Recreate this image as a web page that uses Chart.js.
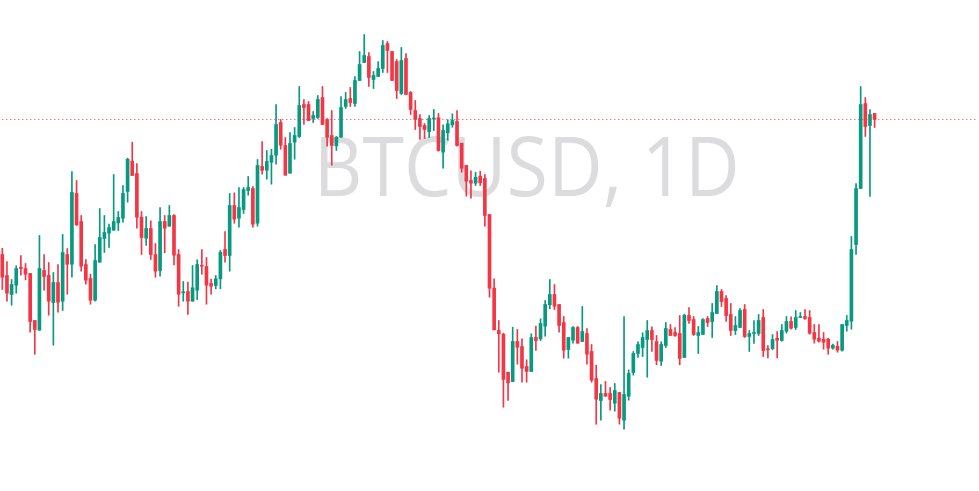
<!DOCTYPE html>
<html>
<head>
<meta charset="utf-8">
<script src="https://cdn.jsdelivr.net/npm/chart.js@4/dist/chart.umd.min.js"></script>
<style>
	html, body { margin: 0; padding: 0; background: #ffffff; }
	#wrap { width: 979px; height: 491px; }
</style>
</head>
<body>
<div id="wrap"><canvas id="chart" width="979" height="491"></canvas></div>
<script>
// daily BTCUSD candles (USD)
var opens = [
	74600, 72500, 70600, 71530, 73330, 73200, 72700, 68000, 67030, 73000,
	72500, 69800, 71800, 69930, 74600, 73630, 80700, 77900, 73600, 72200,
	70030, 73830, 76200, 76730, 77030, 77770, 78230, 80900, 83930, 82700,
	78330, 76230, 77200, 74600, 73000, 77900, 77430, 78500, 74600, 70770,
	70900, 69930, 71030, 73530, 73400, 71700, 71500, 72170, 75100, 74500,
	79500, 78230, 79100, 81000, 81200, 77730, 83400, 83030, 83830, 84530,
	87800, 85500, 82730, 85830, 86400, 89600, 89600, 88200, 88300, 90300,
	88100, 86500, 85470, 86330, 89400, 90200, 89700, 92000, 93800, 94400,
	92100, 92400, 93200, 95700, 94900, 93900, 90700, 94200, 90800, 89000,
	88200, 87500, 86900, 88150, 88270, 84830, 86770, 87570, 87900, 85730,
	83500, 82000, 81730, 82430, 82200, 78600, 71230, 67000, 66630, 62830,
	61900, 65900, 65400, 63400, 62900, 66300, 66170, 67430, 69570, 70600,
	69600, 67800, 65100, 66030, 67300, 65900, 66700, 64900, 62200, 60000,
	60700, 60700, 59730, 60800, 58030, 60430, 62800, 64700, 65300, 66100,
	67000, 65900, 63930, 65500, 67100, 66800, 66700, 64300, 68500, 68100,
	66500, 66600, 68200, 67900, 68700, 70900, 70200, 68600, 67000, 67300,
	69100, 66400, 66700, 66700, 68300, 65130, 65200, 66230, 66000, 66930,
	67900, 67300, 68300, 68400, 68300, 66800, 66230, 66130, 66130, 65230,
	65430, 65030, 67500, 67930, 75600, 81200, 89700, 87500, 88700
];
var highs = [
	75230, 73900, 72100, 73470, 74500, 73700, 72700, 68000, 76500, 74600,
	73800, 72800, 73600, 76600, 75200, 82900, 82000, 78500, 74100, 72630,
	75600, 79200, 78500, 77630, 82600, 78900, 81500, 84230, 85830, 83700,
	78900, 78400, 77970, 75700, 79300, 78500, 79500, 78600, 75100, 71900,
	71830, 73500, 74070, 75100, 74300, 72130, 72500, 75000, 76900, 80700,
	80770, 81300, 81300, 82400, 81400, 84100, 85900, 85000, 85130, 89600,
	88100, 86300, 86800, 87300, 91400, 90100, 89900, 88900, 90500, 91400,
	88200, 89000, 86400, 90400, 90800, 91300, 92400, 94900, 96600, 94800,
	92900, 93900, 96000, 95900, 94900, 94100, 95300, 94700, 90900, 90000,
	88600, 87700, 88500, 89100, 88700, 87570, 88070, 88670, 89000, 85730,
	83500, 82970, 82830, 82930, 82600, 78600, 72170, 68000, 66730, 62830,
	67330, 67100, 66170, 64070, 66670, 67430, 68170, 70000, 72100, 71600,
	69600, 68400, 66300, 67400, 67400, 69400, 67200, 65600, 63530, 61600,
	61900, 61300, 61700, 60800, 68400, 63070, 64900, 65870, 66770, 68000,
	67370, 66500, 65870, 67800, 67600, 67300, 68500, 68630, 69300, 68400,
	67400, 68200, 68400, 69700, 71500, 71100, 70500, 69700, 68400, 69200,
	69600, 67000, 68000, 68600, 69100, 65500, 66600, 66900, 67600, 68400,
	68370, 69000, 68800, 69100, 69000, 67600, 67600, 66800, 66230, 65630,
	65900, 67600, 68500, 76400, 81700, 91400, 90300, 89100, 88700
];
var lows = [
	71100, 69930, 69530, 70730, 72530, 72070, 66830, 64630, 67030, 71030,
	68530, 65530, 68830, 69000, 70630, 72330, 77500, 72930, 71630, 69630,
	69930, 73830, 74800, 75300, 77030, 77000, 77830, 79830, 82500, 77230,
	74600, 75500, 74100, 72330, 72430, 74770, 77430, 73570, 69430, 69930,
	68600, 69930, 70100, 72630, 69630, 70630, 71170, 71170, 73830, 72930,
	77730, 77330, 78700, 80530, 77330, 77430, 82630, 82130, 81630, 83630,
	85130, 82530, 82730, 84130, 86300, 87600, 88000, 87800, 88200, 87600,
	85430, 83530, 85000, 86330, 89200, 89400, 89400, 92000, 93800, 91400,
	91200, 92400, 92800, 92800, 92000, 90200, 90600, 90600, 88600, 87100,
	86100, 86200, 86300, 87000, 84930, 83230, 86030, 87330, 85430, 82830,
	80430, 80230, 81500, 81500, 77430, 70330, 67070, 62830, 59330, 60000,
	61900, 63630, 61830, 61830, 62900, 65000, 66000, 66430, 69170, 69100,
	66830, 64230, 64230, 65730, 65730, 65900, 63630, 61830, 57630, 58030,
	60430, 59030, 58930, 57630, 57130, 60030, 62530, 64300, 64400, 62330,
	64900, 63570, 63500, 65300, 66500, 66400, 63570, 64300, 67700, 66500,
	64700, 66600, 67400, 66300, 68700, 69400, 67900, 66500, 66600, 67300,
	66300, 64900, 65700, 66500, 64400, 64270, 65070, 64270, 65930, 66730,
	67130, 67100, 68300, 68100, 66630, 65730, 65830, 65130, 64630, 65130,
	64830, 64930, 66930, 67130, 74600, 81200, 86400, 80400, 87300
];
var closes = [
	72330, 70730, 71600, 73200, 73200, 72630, 67900, 67100, 73200, 72400,
	69930, 71800, 69830, 74800, 73630, 80800, 77570, 73430, 72030, 70030,
	74000, 76300, 76800, 77300, 77900, 78300, 80700, 84130, 82500, 78330,
	76300, 77200, 74600, 72930, 77900, 77230, 78500, 74530, 70630, 70830,
	69930, 71270, 73600, 73430, 71530, 71430, 72170, 74830, 74500, 79500,
	78130, 79300, 81100, 81300, 77630, 83500, 83030, 83900, 84500, 87600,
	85530, 82530, 85700, 86500, 89500, 89300, 88000, 88500, 90100, 87600,
	86330, 85500, 86330, 89300, 90100, 89800, 92000, 93600, 94500, 92300,
	92500, 93200, 95500, 95000, 92000, 91000, 94000, 90600, 89100, 88100,
	87400, 87100, 88200, 88250, 85000, 87000, 87670, 88000, 85500, 83230,
	81930, 81730, 82330, 81770, 78500, 71230, 67070, 66670, 62100, 61770,
	65900, 65330, 63230, 62900, 66300, 66000, 67700, 69600, 70600, 69430,
	67500, 65030, 66300, 67300, 65730, 66900, 64630, 62030, 60130, 60700,
	60430, 60100, 61000, 58230, 60600, 62700, 64700, 65600, 66300, 67000,
	66100, 64000, 65600, 67200, 66500, 66500, 64200, 68530, 68000, 66600,
	66800, 68100, 67800, 68800, 70900, 69900, 68500, 67000, 67500, 69000,
	66400, 66700, 66800, 68000, 65000, 65070, 66100, 66030, 67000, 67900,
	67230, 68300, 68400, 68200, 66730, 66130, 65930, 65830, 65230, 65530,
	65030, 67600, 68000, 75100, 81200, 89600, 87400, 88600, 88100
];
var emptyDaysRight = 22; // blank space TradingView leaves after the last bar
var symbolText = 'BTCUSD, 1D';

var upColor = '#089981';
var downColor = '#F23645';

var total = opens.length + emptyDaysRight;
var labels = [];
for (var i = 0; i < total; i++) labels.push(String(i + 1));

var colors = opens.map(function (o, i) { return closes[i] >= o ? upColor : downColor; });
var wicks = lows.map(function (l, i) { return [l, highs[i]]; });
var bodies = opens.map(function (o, i) { return [Math.min(o, closes[i]), Math.max(o, closes[i])]; });
var lastClose = closes[closes.length - 1];
var lastColor = colors[colors.length - 1];

var watermark = {
	id: 'watermark',
	beforeDatasetsDraw: function (chart) {
		var ctx = chart.ctx;
		ctx.save();
		ctx.translate(chart.width * 0.538, chart.height * 0.399);
		ctx.scale(0.92, 1);
		ctx.font = '82px "Open Sans"';
		ctx.fillStyle = '#dcdcdf';
		ctx.textAlign = 'center';
		ctx.textBaseline = 'alphabetic';
		ctx.fillText(symbolText, 0, 0);
		ctx.restore();
	}
};

function draw() {
	new Chart(document.getElementById('chart').getContext('2d'), {
		type: 'bar',
		data: {
			labels: labels,
			datasets: [{
				type: 'line',
				data: labels.map(function () { return lastClose; }),
				borderColor: lastColor,
				borderWidth: 1,
				borderDash: [1, 3],
				pointRadius: 0,
				order: 0
			}, {
				data: bodies,
				backgroundColor: colors,
				barThickness: 3,
				minBarLength: 1,
				grouped: false,
				order: 1
			}, {
				data: wicks,
				backgroundColor: colors,
				barThickness: 1,
				grouped: false,
				order: 2
			}]
		},
		options: {
			responsive: false,
			animation: false,
			layout: { padding: 0 },
			plugins: { legend: { display: false }, tooltip: { enabled: false } },
			scales: {
				x: { display: false, offset: true },
				// half-pixel shift keeps the dotted price line crisp
				y: { display: false, min: 50950, max: 100050 }
			}
		},
		plugins: [watermark]
	});
}

if (document.fonts && document.fonts.load) {
	document.fonts.load('82px "Open Sans"').then(draw, draw);
} else {
	draw();
}
</script>
</body>
</html>
